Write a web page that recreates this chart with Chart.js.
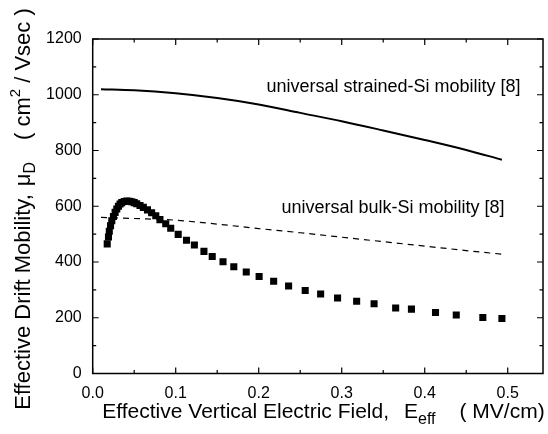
<!DOCTYPE html>
<html>
<head>
<meta charset="utf-8">
<script src="https://cdn.jsdelivr.net/npm/chart.js@4"></script>
<style>
  body { margin: 0; background: #fff; }
  #wrap { width: 548px; height: 434px; }
</style>
</head>
<body>
<div id="wrap"><canvas id="myChart" width="548" height="434"></canvas></div>
<script>
// measured data (E_eff in MV/cm, mobility in cm2/Vsec)
const measX = [0.0175, 0.019, 0.020, 0.0215, 0.023, 0.025, 0.027, 0.029, 0.031, 0.033,
    0.035, 0.038, 0.041, 0.044, 0.047, 0.050, 0.053, 0.057, 0.061, 0.066,
    0.071, 0.076, 0.081, 0.088, 0.094, 0.103, 0.113, 0.1225, 0.134, 0.144,
    0.157, 0.170, 0.185, 0.2005, 0.218, 0.236, 0.256, 0.2746, 0.295, 0.318,
    0.339, 0.365, 0.384, 0.413, 0.438, 0.470, 0.493];
const measY = [465, 490, 510, 530, 548, 563, 578, 590, 600, 608,
    613, 617, 619, 618, 616, 613, 609, 603, 596, 587,
    577, 566, 552, 537, 521, 499, 478, 461, 438, 420,
    401, 383, 364, 348, 331, 314, 298, 285, 271, 259,
    250, 235, 231, 219, 210, 201, 197];

// universal strained-Si curve
const strainedX = [0.01, 0.05, 0.1, 0.15, 0.2, 0.25, 0.3, 0.35, 0.4, 0.45, 0.493];
const strainedY = [1020, 1016, 1005, 988, 965, 935, 905, 872, 838, 802, 767];

// universal bulk-Si curve
const bulkX = [0.01, 0.05, 0.1, 0.15, 0.2, 0.25, 0.3, 0.35, 0.4, 0.45, 0.493];
const bulkY = [560, 556, 550, 536, 520, 505, 489, 473, 457, 441, 428];

const xTicks = [0, 0.1, 0.2, 0.3, 0.4, 0.5];
const yTicks = [0, 200, 400, 600, 800, 1000, 1200];

const FONT = '"Liberation Sans", Arial, sans-serif';
const pts = (xs, ys) => xs.map((x, i) => ({ x: x, y: ys[i] }));

// draw a run of text pieces (with sub/superscripts) centered at 0,0
function drawRuns(ctx, runs) {
    let total = 0;
    runs.forEach(r => {
        ctx.font = r.size + 'px ' + FONT;
        r.w = ctx.measureText(r.t).width + (r.gap || 0);
        total += r.w;
    });
    let x = -total / 2;
    ctx.textBaseline = 'middle';
    ctx.textAlign = 'left';
    runs.forEach(r => {
        ctx.font = r.size + 'px ' + FONT;
        ctx.fillText(r.t, x + (r.gap || 0), r.dy || 0);
        x += r.w;
    });
}

const framePlugin = {
    id: 'frame',
    afterDraw(chart) {
        const ctx = chart.ctx;
        const a = chart.chartArea;
        const xs = chart.scales.x;
        const ys = chart.scales.y;
        ctx.save();
        ctx.strokeStyle = '#000';
        ctx.lineWidth = 1.5;
        ctx.strokeRect(a.left, a.top, a.right - a.left, a.bottom - a.top);
        ctx.lineWidth = 1.2;
        ctx.beginPath();
        xs.ticks.forEach(t => {
            const px = xs.getPixelForValue(t.value);
            const major = Math.abs(t.value * 10 - Math.round(t.value * 10)) < 1e-6;
            const len = major ? 6 : 3.5;
            ctx.moveTo(px, a.bottom); ctx.lineTo(px, a.bottom - len);
            ctx.moveTo(px, a.top); ctx.lineTo(px, a.top + len);
        });
        ys.ticks.forEach(t => {
            const py = ys.getPixelForValue(t.value);
            const len = t.value % 200 === 0 ? 6 : 3.5;
            ctx.moveTo(a.left, py); ctx.lineTo(a.left + len, py);
            ctx.moveTo(a.right, py); ctx.lineTo(a.right - len, py);
        });
        ctx.stroke();

        // curve labels
        ctx.fillStyle = '#000';
        ctx.font = '18px ' + FONT;
        ctx.textBaseline = 'middle';
        ctx.textAlign = 'left';
        ctx.fillText('universal strained-Si mobility [8]', xs.getPixelForValue(0.2093), ys.getPixelForValue(1026));
        ctx.fillText('universal bulk-Si mobility [8]', xs.getPixelForValue(0.2275), ys.getPixelForValue(595));

        // x axis title
        ctx.save();
        ctx.translate(323.5, 412);
        drawRuns(ctx, [
            { t: 'Effective Vertical Electric Field,', size: 21 },
            { t: 'E', size: 21, gap: 15 },
            { t: 'eff', size: 16, dy: 8 },
            { t: '( MV/cm)', size: 21, gap: 24 }
        ]);
        ctx.restore();

        // y axis title
        ctx.save();
        ctx.translate(24, 209);
        ctx.rotate(-Math.PI / 2);
        drawRuns(ctx, [
            { t: 'Effective Drift Mobility,', size: 22 },
            { t: 'μ', size: 22, gap: 8 },
            { t: 'D', size: 16, dy: 7 },
            { t: '( cm', size: 22, gap: 22 },
            { t: '2', size: 15, dy: -8 },
            { t: ' / Vsec )', size: 22 }
        ]);
        ctx.restore();
        ctx.restore();
    }
};

const ctx = document.getElementById('myChart').getContext('2d');
// eslint-disable-next-line no-unused-vars
const myChart = new Chart(ctx, {
    type: 'scatter',
    data: {
        datasets: [{
            data: pts(measX, measY),
            pointStyle: 'rect',
            pointRadius: 5,
            pointBorderWidth: 0,
            pointBackgroundColor: '#000',
            showLine: false
        }, {
            data: pts(strainedX, strainedY),
            showLine: true,
            borderColor: '#000',
            borderWidth: 2,
            pointRadius: 0,
            cubicInterpolationMode: 'monotone'
        }, {
            data: pts(bulkX, bulkY),
            showLine: true,
            borderColor: '#000',
            borderWidth: 1.2,
            borderDash: [6, 5],
            pointRadius: 0,
            cubicInterpolationMode: 'monotone'
        }]
    },
    options: {
        responsive: false,
        animation: false,
        layout: { padding: { left: 0, top: 39, right: 1, bottom: 0 } },
        plugins: {
            legend: { display: false },
            tooltip: { enabled: false }
        },
        scales: {
            x: {
                type: 'linear',
                min: 0,
                max: 0.5425,
                grid: { display: false },
                border: { display: false },
                afterFit(scale) { scale.height = 60.5; },
                ticks: {
                    stepSize: 0.05,
                    includeBounds: false,
                    autoSkip: false,
                    maxRotation: 0,
                    padding: 2,
                    color: '#000',
                    font: { family: FONT, size: 16 },
                    callback: v => {
                        const hit = xTicks.find(t => Math.abs(t - v) < 1e-6);
                        return hit === undefined ? '' : hit.toFixed(1);
                    }
                }
            },
            y: {
                min: 0,
                max: 1200,
                grid: { display: false },
                border: { display: false },
                afterFit(scale) { scale.width = 92.7; },
                ticks: {
                    stepSize: 100,
                    autoSkip: false,
                    padding: 3,
                    color: '#000',
                    font: { family: FONT, size: 16 },
                    callback: v => (yTicks.includes(v) ? String(v) : '')
                }
            }
        }
    },
    plugins: [framePlugin]
});
</script>
</body>
</html>
